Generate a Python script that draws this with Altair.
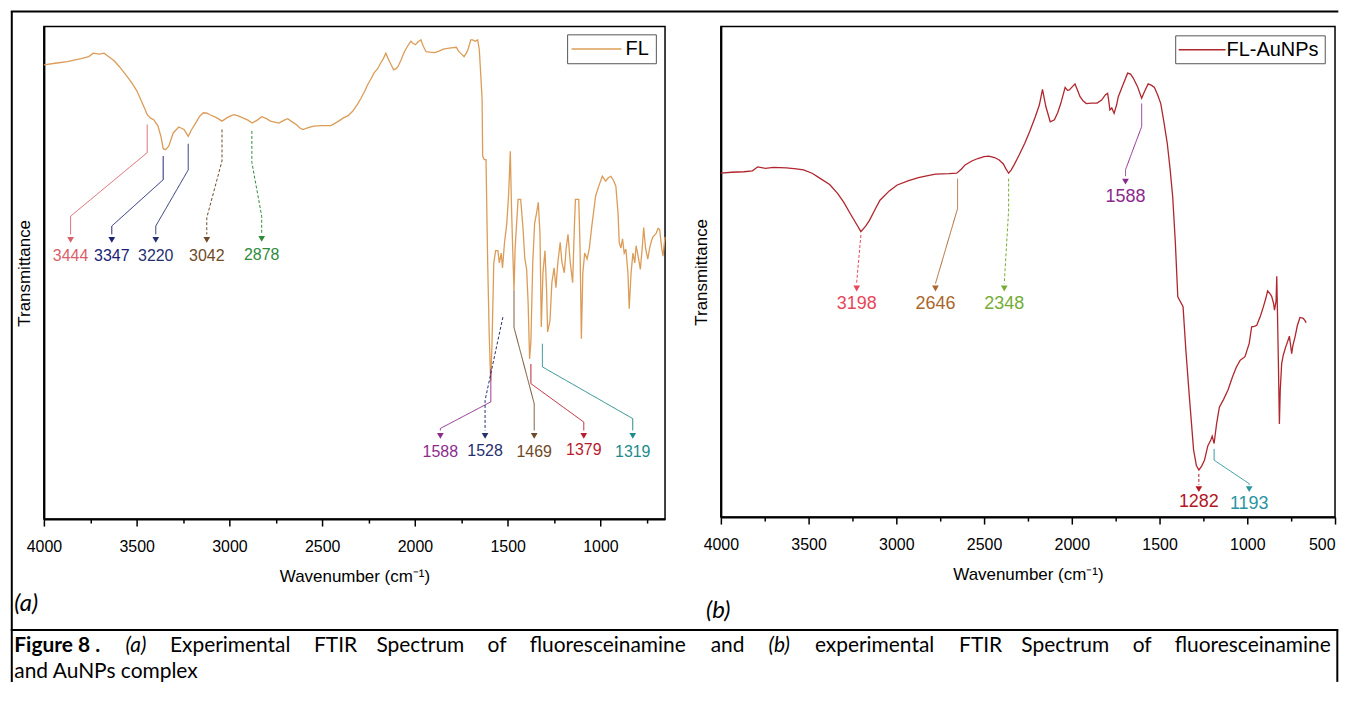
import altair as alt
import pandas as pd

# ---------------- spectrum (a): FL ----------------
FL_WN = [4000, 3930, 3874, 3800, 3758, 3734, 3700, 3676, 3652, 3620, 3594, 3560, 3525, 3500, 3478,
         3455, 3443, 3425, 3408, 3385, 3368, 3357, 3345, 3327, 3303, 3273, 3245, 3230, 3222, 3205,
         3187, 3160, 3140, 3120, 3105, 3070, 3040, 3012, 2990, 2973, 2950, 2931, 2900, 2877, 2850,
         2826, 2800, 2779, 2733, 2710, 2686, 2660, 2640, 2620, 2604, 2575, 2546, 2500, 2453, 2420,
         2383, 2360, 2336, 2310, 2290, 2270, 2255, 2235, 2220, 2200, 2185, 2170, 2157, 2145, 2133,
         2115, 2100, 2091, 2075, 2057, 2040, 2022, 2010, 1998, 1985, 1968, 1955, 1940, 1920, 1894,
         1870, 1847, 1815, 1777, 1765, 1754, 1735, 1720, 1712, 1699, 1689, 1675, 1662, 1653, 1645,
         1638, 1635, 1626, 1617, 1608, 1600, 1592, 1585, 1575, 1565, 1553, 1545, 1535, 1528, 1517,
         1505, 1495, 1486, 1480, 1474, 1466, 1460, 1444, 1430, 1417, 1408, 1398, 1390, 1382, 1375,
         1365, 1355, 1345, 1335, 1326, 1319, 1310, 1299, 1290, 1285, 1272, 1262, 1250, 1240, 1230,
         1217, 1208, 1195, 1185, 1175, 1163, 1150, 1140, 1135, 1117, 1110, 1103, 1095, 1085, 1072,
         1060, 1045, 1026, 1010, 990, 972, 958, 944, 930, 917, 905, 899, 890, 881, 872,
         863, 852, 845, 835, 825, 815, 808, 795, 785, 775, 767, 757, 745, 735, 725,
         717, 700, 690, 681, 670, 663, 652]
FL_T = [92.2, 92.6, 92.9, 93.5, 93.9, 94.6, 94.4, 94.6, 93.9, 93.0, 91.9, 90.3, 88.5, 87.0, 85.2,
        83.2, 82.1, 81.4, 81.1, 79.8, 77.5, 75.2, 75.0, 75.7, 78.4, 79.6, 79.1, 78.2, 77.7, 79.0,
        80.1, 81.8, 82.5, 82.4, 82.1, 81.5, 80.8, 81.5, 81.9, 82.1, 81.8, 81.5, 81.0, 80.4, 81.0,
        81.7, 81.3, 80.8, 80.4, 80.9, 81.3, 80.6, 80.1, 79.4, 79.1, 79.5, 79.8, 79.9, 79.9, 80.6,
        81.5, 81.9, 82.8, 84.2, 85.5, 86.9, 88.2, 89.5, 90.6, 91.5, 92.6, 93.5, 94.6, 93.5, 92.6,
        91.2, 91.5, 91.9, 93.2, 94.9, 96.0, 97.0, 96.6, 96.3, 96.8, 97.3, 96.0, 94.9, 94.8, 94.7,
        95.0, 95.4, 95.6, 95.8, 95.0, 94.6, 93.9, 94.8, 95.6, 97.3, 97.3, 97.0, 97.3, 95.3, 90.0,
        85.2, 73.7, 73.0, 73.0, 52.2, 38.0, 28.0, 35.0, 52.0, 54.5, 54.5, 52.0, 54.0, 51.0, 56.2,
        60.0, 66.0, 74.7, 64.0, 56.0, 46.4, 55.0, 64.9, 64.9, 58.8, 53.0, 50.7, 44.0, 32.5, 36.0,
        52.0, 60.0, 62.0, 64.3, 58.0, 39.0, 50.0, 54.5, 46.0, 38.0, 40.3, 48.0, 51.0, 47.0, 52.0,
        56.2, 52.2, 50.0, 55.0, 57.8, 52.2, 48.0, 60.0, 64.9, 64.9, 55.0, 36.6, 50.0, 54.0, 52.8,
        55.0, 60.0, 65.6, 67.5, 69.6, 68.6, 69.3, 69.6, 68.8, 67.6, 62.0, 56.2, 55.0, 56.9, 54.0,
        54.8, 50.0, 42.7, 50.0, 54.0, 52.0, 55.5, 53.0, 50.7, 55.0, 59.2, 55.0, 52.8, 55.0, 56.5,
        57.3, 58.0, 59.0, 58.8, 55.0, 53.4, 57.3]

# ---------------- spectrum (b): FL-AuNPs ----------------
AU_WN = [4000, 3940, 3868, 3820, 3790, 3747, 3700, 3626, 3570, 3529, 3480, 3432, 3380, 3335, 3300,
         3263, 3230, 3202, 3175, 3153, 3120, 3093, 3040, 2995, 2930, 2874, 2820, 2777, 2700, 2656,
         2630, 2608, 2570, 2535, 2500, 2474, 2440, 2414, 2390, 2377, 2360, 2345, 2329, 2300, 2268,
         2240, 2208, 2185, 2167, 2148, 2123, 2099, 2080, 2063, 2038, 2025, 2014, 1995, 1982, 1965,
         1953, 1935, 1917, 1890, 1856, 1830, 1808, 1796, 1790, 1783, 1772, 1759, 1745, 1735, 1710,
         1682, 1665, 1650, 1626, 1602, 1585, 1565, 1545, 1529, 1510, 1493, 1475, 1456, 1440, 1425,
         1410, 1396, 1366, 1350, 1330, 1306, 1290, 1276, 1260, 1244, 1225, 1208, 1200, 1189, 1175,
         1159, 1135, 1110, 1085, 1062, 1040, 1013, 989, 975, 960, 946, 925, 908, 895, 884,
         870, 861, 850, 845, 836, 832, 826, 823, 817, 812, 804, 795, 781, 770, 760,
         753, 747, 740, 728, 715, 700, 690, 681, 670, 665]
AU_T = [70.1, 70.3, 70.4, 70.6, 71.4, 71.1, 71.3, 71.2, 71.0, 70.8, 70.1, 69.0, 67.8, 66.0, 64.2,
        61.9, 59.9, 58.2, 59.3, 60.5, 62.8, 64.6, 66.5, 67.7, 68.6, 69.2, 69.6, 69.9, 70.0, 70.1,
        70.9, 71.8, 72.6, 73.1, 73.5, 73.6, 73.3, 72.8, 72.0, 71.1, 70.1, 70.8, 71.8, 73.8, 76.2,
        78.6, 81.6, 84.0, 87.2, 83.7, 80.6, 81.0, 82.5, 84.3, 87.6, 87.0, 87.1, 87.8, 88.3, 86.8,
        85.7, 84.8, 84.3, 84.4, 84.4, 85.0, 86.1, 86.4, 85.0, 83.0, 83.4, 82.3, 84.0, 85.7, 88.0,
        90.5, 90.3, 89.5, 87.8, 85.4, 86.8, 88.3, 88.0, 87.6, 86.0, 84.3, 80.5, 76.2, 71.0, 65.3,
        56.0, 44.9, 42.9, 34.0, 24.5, 13.7, 10.5, 9.6, 10.4, 11.6, 14.5, 15.7, 16.5, 15.0, 19.0,
        22.4, 24.0, 25.9, 28.5, 30.6, 32.0, 32.7, 35.4, 38.8, 38.9, 39.1, 41.0, 42.9, 44.5, 46.1,
        45.5, 45.0, 43.5, 42.2, 44.0, 49.1, 38.0, 32.0, 19.0, 26.0, 31.3, 33.0, 34.7, 35.8, 36.9,
        35.0, 33.3, 35.0, 36.7, 39.0, 40.7, 40.6, 40.5, 40.0, 39.6]

# ---------------- peak annotations (a) ----------------
A_LABELS = ["3444", "3347", "3220", "3042", "2878", "1588", "1528", "1469", "1379", "1319"]
A_COLORS = ["#d95f6b", "#1b2275", "#26306f", "#6f4a27", "#2e8b3b",
            "#8c2b8d", "#26306f", "#6f4a27", "#b81d2b", "#1f8b8c"]
A_DASH = ["solid", "solid", "solid", "dashed", "dashed", "solid", "dashed", "solid", "solid", "solid"]
A_PATHS = [
    [[3443, 80.1], [3443, 74.4], [3856, 61.5], [3856, 57.8]],
    [[3357, 73.7], [3357, 68.9], [3634, 59.5], [3634, 57.8]],
    [[3222, 76.2], [3222, 70.9], [3397, 59.5], [3397, 57.8]],
    [[3040, 79.1], [3040, 72.7], [3122, 61.2], [3122, 57.8]],
    [[2879, 78.8], [2879, 72.4], [2826, 61.5], [2826, 57.8]],
    [[1591, 30.5], [1591, 23.8], [1863, 18.4], [1863, 18.0]],
    [[1526, 41.0], [1622, 24.1], [1622, 18.0]],
    [[1466, 46.4], [1466, 38.9], [1357, 23.4], [1357, 18.0]],
    [[1375, 31.5], [1375, 27.5], [1090, 19.7], [1090, 18.0]],
    [[1313, 35.6], [1313, 30.9], [826, 20.4], [826, 18.0]],
]
A_LABEL_WN = [3856, 3634, 3397, 3122, 2826, 1863, 1622, 1357, 1090, 826]
A_LABEL_T = [53.4, 53.4, 53.4, 53.4, 53.7, 13.6, 13.8, 13.6, 14.0, 13.6]
A_HEAD_T = [56.7, 56.7, 56.7, 56.7, 56.9, 16.9, 16.9, 16.9, 16.9, 16.9]

# ---------------- peak annotations (b) ----------------
B_LABELS = ["3198", "2646", "2348", "1588", "1282", "1193"]
B_COLORS = ["#e6485a", "#ab662c", "#74ad34", "#8b2a8e", "#b3161f", "#2a95a0"]
B_DASH = ["dashed", "solid", "dashed", "solid", "dashed", "solid"]
B_PATHS = [
    [[3202, 57.5], [3226, 47.8]],
    [[2651, 69.0], [2651, 62.9], [2777, 47.6]],
    [[2360, 69.0], [2360, 62.6], [2385, 47.6]],
    [[1602, 84.3], [1602, 79.6], [1694, 70.8], [1694, 69.5]],
    [[1276, 8.8], [1276, 6.6]],
    [[1189, 13.9], [1189, 11.6], [989, 6.8], [989, 6.6]],
]
B_LABEL_WN = [3226, 2777, 2385, 1694, 1276, 989]
B_LABEL_T = [43.5, 43.5, 43.5, 65.3, 3.1, 2.7]
B_HEAD_T = [46.6, 46.6, 46.6, 68.4, 5.7, 5.7]

A_TICKS = [4000, 3750, 3500, 3250, 3000, 2750, 2500, 2250, 2000, 1750, 1500, 1250, 1000, 750]
B_TICKS = [4000, 3750, 3500, 3250, 3000, 2750, 2500, 2250, 2000, 1750, 1500, 1250, 1000, 750, 500]

SERIES = ["FL", "FL-AuNPs"]
SERIES_COLORS = ["#dc9c58", "#b0262e"]

CAPTION_WORDS = ["Figure 8 .", "(a)", "Experimental", "FTIR", "Spectrum", "of", "fluoresceinamine",
                 "and", "(b)", "experimental", "FTIR", "Spectrum", "of", "fluoresceinamine"]
CAPTION_STYLE = ["bold", "italic", "normal", "normal", "normal", "normal", "normal",
                 "normal", "italic", "normal", "normal", "normal", "normal", "normal"]
CAPTION_2 = "and AuNPs complex"
PANEL_TAGS = ["(a)", "(b)"]
Y_TITLE = "Transmittance"
X_TITLE = "Wavenumber (cm\u207b\u00b9)"

FONT = "Liberation Sans"
CAP_FONT = "Lato"
CAP_SIZE = 21
# left edge (page px) of every caption word on the justified first line
CAP_X = [12, 123.5, 168.1, 312.6, 375.2, 486.7, 529, 710.5, 768.5, 815, 959.6, 1022.1, 1133.7, 1175.9]
OX, OY = 41.7, 26.7   # page position of panel (a) plot origin


def dummy():
    return pd.DataFrame({"k": [0]})


def rule(x, x2, y, y2, w=2, color="black"):
    return alt.Chart(dummy()).mark_rule(color=color, strokeWidth=w).encode(
        x=alt.value(x), x2=alt.value(x2), y=alt.value(y), y2=alt.value(y2))


def txt(s, x, y, size, weight="normal", style="normal", font=CAP_FONT):
    return alt.Chart(dummy()).mark_text(text=s, font=font, fontSize=size, fontWeight=weight,
                                        fontStyle=style, align="left", baseline="middle",
                                        color="black").encode(x=alt.value(x), y=alt.value(y))


def legend_box(name, color, x0, x1, y0, y1, lx0, lx1, ly, tx):
    box = alt.Chart(dummy()).mark_rect(fill="white", stroke="#555", strokeWidth=1).encode(
        x=alt.value(x0), x2=alt.value(x1), y=alt.value(y0), y2=alt.value(y1))
    return [box, rule(lx0, lx1, ly, ly, w=1.5, color=color), txt(name, tx, ly, 20, font=FONT)]


def panel(wn, t, color, domain, ticks, labels, colors, dashes, paths, lwn, lt, ht, lab_size, last_right):
    df = pd.DataFrame({"wn": wn, "t": t})
    xaxis = alt.Axis(values=ticks, format="d",
                     labelExpr="datum.value % 500 === 0 ? datum.label : ''",
                     labelOverlap=False,
                     labelAlign={"condition": {"test": f"datum.value === {last_right}", "value": "right"},
                                 "value": "center"},
                     tickSize={"condition": {"test": "datum.value % 500 === 0", "value": 7}, "value": 4},
                     tickColor="black", tickWidth=1.5, domainColor="black", domainWidth=2,
                     labelFont=FONT, labelFontSize=16, labelColor="black", labelPadding=13,
                     title=X_TITLE, titleFont=FONT, titleFontSize=17, titleFontWeight="normal",
                     titleColor="black", titlePadding=14, grid=False)
    yaxis = alt.Axis(labels=False, ticks=False, grid=False, domainColor="black", domainWidth=2,
                     title=Y_TITLE, titleFont=FONT, titleFontSize=17, titleFontWeight="normal",
                     titleColor="black", titlePadding=10)
    yscale = alt.Scale(domain=[0, 100], nice=False, zero=False)
    X = alt.X("wn:Q", scale=alt.Scale(domain=domain, nice=False, zero=False), axis=xaxis)
    Y = alt.Y("t:Q", scale=yscale, axis=yaxis)

    spec = alt.Chart(df).mark_line(strokeWidth=1.3, color=color).encode(x=X, y=Y)

    rows = []
    for i, (col, dsh, path) in enumerate(zip(colors, dashes, paths)):
        for j, (w, tv) in enumerate(path):
            rows.append({"id": f"{i}", "ord": j, "wn": w, "t": tv, "c": col, "dash": dsh})
    ldf = pd.DataFrame(rows)
    pdf = pd.DataFrame({"label": labels, "c": colors, "wn": lwn, "t": lt, "ht": ht})

    lines = alt.Chart(ldf).mark_line(strokeWidth=1).encode(
        x=X, y=Y, detail="id:N", order="ord:Q", stroke=alt.Stroke("c:N", scale=None),
        strokeDash=alt.StrokeDash("dash:N", scale=alt.Scale(domain=["solid", "dashed"],
                                                            range=[[1, 0], [3, 2]]), legend=None))
    heads = alt.Chart(pdf).mark_point(shape="triangle-down", filled=True, size=45, opacity=1).encode(
        x=X, y=alt.Y("ht:Q", scale=yscale, axis=yaxis), fill=alt.Fill("c:N", scale=None))
    texts = alt.Chart(pdf).mark_text(font=FONT, fontSize=lab_size, baseline="middle", align="center").encode(
        x=X, y=Y, text="label:N", fill=alt.Fill("c:N", scale=None))
    return [spec, lines, heads, texts]


layers_a = panel(FL_WN, FL_T, SERIES_COLORS[0], [4000, 652], A_TICKS, A_LABELS, A_COLORS, A_DASH,
                 A_PATHS, A_LABEL_WN, A_LABEL_T, A_HEAD_T, 16, -1)
layers_b = panel(AU_WN, AU_T, SERIES_COLORS[1], [4000, 500], B_TICKS, B_LABELS, B_COLORS, B_DASH,
                 B_PATHS, B_LABEL_WN, B_LABEL_T, B_HEAD_T, 18, 500)

# ---- table borders, caption and panel tags (positions relative to panel (a) plot origin) ----
deco_a = [
    rule(9.5 - OX - 1, 1340 - OX, 11.7 - OY, 11.7 - OY),
    rule(9.5 - OX, 9.5 - OX, 11.7 - OY, 684 - OY),
    rule(9.5 - OX - 1, 1340 - OX, 632 - OY, 632 - OY),
    rule(1339 - OX, 1339 - OX, 632 - OY, 684 - OY),
    txt(PANEL_TAGS[0], 12 - OX, 606 - OY, 24, style="italic"),
]
for wd, st, cx in zip(CAPTION_WORDS, CAPTION_STYLE, CAP_X):
    deco_a.append(txt(wd, cx - OX, 648 - OY, CAP_SIZE,
                      weight="bold" if st == "bold" else "normal",
                      style="italic" if st == "italic" else "normal"))
deco_a.append(txt(CAPTION_2, 12 - OX, 674 - OY, CAP_SIZE))
deco_a += legend_box(SERIES[0], SERIES_COLORS[0], 525.3, 614.3, 8.3, 37.3, 529.3, 579.3, 22.6, 583.3)

deco_b = [txt(PANEL_TAGS[1], -14.8, 586.3, 24, style="italic")]
deco_b += legend_box(SERIES[1], SERIES_COLORS[1], 456.2, 606.2, 9.3, 37.3, 459.2, 506.2, 23.3, 507.2)

pa = alt.layer(*(layers_a + deco_a)).properties(width=623, height=494)
pb = alt.layer(*(layers_b + deco_b)).properties(width=616, height=492)

chart = alt.hconcat(pa, pb, spacing=56, bounds="flush").properties(
    padding={"left": 1, "top": 0.6, "right": 0, "bottom": 0}
).configure_view(stroke="black", strokeWidth=1.5).configure_axis(grid=False)

chart.save("out.html", embed_options={"renderer": "svg", "actions": False})
